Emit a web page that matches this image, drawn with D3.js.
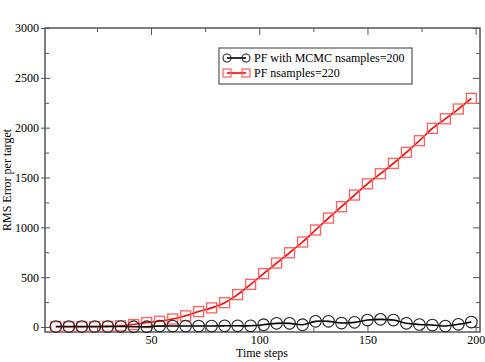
<!DOCTYPE html>
<html>
<head>
<meta charset="utf-8">
<script src="https://cdn.jsdelivr.net/npm/d3@7"></script>
<style>
  body { margin: 0; background: #fff; }
  svg text { font-family: "Liberation Serif", "DejaVu Serif", serif; }
</style>
</head>
<body>
<div id="app"></div>
<script>
const w = 485;
const h = 362;

// time steps where markers are drawn
const steps = [6, 12, 18, 24, 30, 36, 42, 48, 54, 60, 66, 72, 78, 84, 90, 96, 102,
  108, 114, 120, 126, 132, 138, 144, 150, 156, 162, 168, 174, 180, 186, 192, 198];

const mcmcErr = [5, 5, 5, 5, 5, 5, 3, 3, 10, 10, 10, 10, 10, 12, 12, 12, 23,
  37, 37, 23, 57, 57, 40, 47, 70, 77, 70, 37, 25, 20, 10, 27, 50];

const pfErr = [2, 2, 2, 3, 6, 12, 25, 45, 58, 80, 112, 155, 192, 244, 325, 428, 535,
  642, 745, 853, 973, 1093, 1207, 1324, 1437, 1538, 1642, 1752, 1869, 1993, 2089, 2187, 2294];

const xMajor = [50, 100, 150, 200];
const xMinor = [25, 75, 125, 175];
const yMajor = [0, 500, 1000, 1500, 2000, 2500, 3000];
const yMinor = [250, 750, 1250, 1750, 2250, 2750];

const legendLabels = ["PF with MCMC nsamples=200", "PF nsamples=220"];

const frame = "#555";
const serif = '"Liberation Serif", "DejaVu Serif", serif';

const svg = d3.select("#app").append("svg")
  .attr("width", w).attr("height", h);

const x = d3.scaleLinear().domain([1, 202]).range([45, 480]);
const y = d3.scaleLinear().domain([-50, 3000]).range([332, 28]);

const xL = x.range()[0], xR = x.range()[1];
const yT = y.range()[1], yB = y.range()[0];

const styleAxis = (g) => {
  g.attr("font-family", serif).attr("font-size", 12);
  g.select(".domain").remove();
  g.selectAll("line").attr("stroke", frame);
  g.selectAll("text").attr("fill", "#000").style("font-family", serif);
};

const fmt = d3.format("d");

// bottom axis, ticks pointing in
svg.append("g").attr("transform", `translate(0,${yB})`)
  .call(d3.axisBottom(x).tickValues(xMajor).tickFormat(fmt).tickSizeInner(-7).tickSizeOuter(0).tickPadding(3))
  .call(styleAxis);
svg.append("g").attr("transform", `translate(0,${yB})`)
  .call(d3.axisBottom(x).tickValues(xMinor).tickSizeInner(-4).tickSizeOuter(0).tickFormat(""))
  .call(styleAxis);

// top axis
svg.append("g").attr("transform", `translate(0,${yT})`)
  .call(d3.axisBottom(x).tickValues(xMajor).tickSizeInner(7).tickSizeOuter(0).tickFormat(""))
  .call(styleAxis);
svg.append("g").attr("transform", `translate(0,${yT})`)
  .call(d3.axisBottom(x).tickValues(xMinor).tickSizeInner(4).tickSizeOuter(0).tickFormat(""))
  .call(styleAxis);

// left axis: major ticks cross the line
svg.append("g").attr("transform", `translate(${xL},0)`)
  .call(d3.axisLeft(y).tickValues(yMajor).tickFormat(fmt).tickSizeInner(4).tickSizeOuter(0).tickPadding(2))
  .call(styleAxis);
svg.append("g").attr("transform", `translate(${xL},0)`)
  .call(d3.axisRight(y).tickValues(yMajor).tickSizeInner(5).tickSizeOuter(0).tickFormat(""))
  .call(styleAxis);
svg.append("g").attr("transform", `translate(${xL},0)`)
  .call(d3.axisRight(y).tickValues(yMinor).tickSizeInner(4).tickSizeOuter(0).tickFormat(""))
  .call(styleAxis);

// right axis
svg.append("g").attr("transform", `translate(${xR},0)`)
  .call(d3.axisLeft(y).tickValues(yMajor).tickSizeInner(7).tickSizeOuter(0).tickFormat(""))
  .call(styleAxis);
svg.append("g").attr("transform", `translate(${xR},0)`)
  .call(d3.axisLeft(y).tickValues(yMinor).tickSizeInner(4).tickSizeOuter(0).tickFormat(""))
  .call(styleAxis);

// frame
svg.append("rect")
  .attr("x", xL).attr("y", yT)
  .attr("width", xR - xL).attr("height", yB - yT)
  .attr("fill", "none").attr("stroke", frame).attr("stroke-width", 1.5);

// axis titles
svg.append("text")
  .attr("x", 262).attr("y", 357)
  .attr("text-anchor", "middle").style("font-size", "12px")
  .text("Time steps");
svg.append("text")
  .attr("transform", `translate(11,${(yT + yB) / 2}) rotate(-90)`)
  .attr("text-anchor", "middle").style("font-size", "12px")
  .text("RMS Error per target");

const line = d3.line().curve(d3.curveCatmullRom)
  .x((d) => x(d[0])).y((d) => y(d[1]));

const plot = svg.append("g");

// red series
const pfPts = steps.map((t, i) => [t, pfErr[i]]);
plot.append("path").datum(pfPts)
  .attr("fill", "none").attr("stroke", "#ff0000").attr("stroke-width", 1.6)
  .attr("d", line);
plot.selectAll("rect.pf").data(pfPts).enter().append("rect")
  .attr("class", "pf")
  .attr("x", (d) => x(d[0]) - 5).attr("y", (d) => y(d[1]) - 5)
  .attr("width", 10).attr("height", 10)
  .attr("fill", "none").attr("stroke", "#ff6060").attr("stroke-width", 1.3);

// black series
const mcPts = steps.map((t, i) => [t, mcmcErr[i]]);
plot.append("path").datum(mcPts)
  .attr("fill", "none").attr("stroke", "#000").attr("stroke-width", 1.6)
  .attr("d", line);
plot.selectAll("circle.mc").data(mcPts).enter().append("circle")
  .attr("class", "mc")
  .attr("cx", (d) => x(d[0])).attr("cy", (d) => y(d[1]))
  .attr("r", 5.8)
  .attr("fill", "none").attr("stroke", "#222").attr("stroke-width", 1.1);

// legend
const lg = svg.append("g");
lg.append("rect")
  .attr("x", 219).attr("y", 48).attr("width", 193).attr("height", 36)
  .attr("fill", "#fff").attr("stroke", frame).attr("stroke-width", 1.2);

const rows = [58, 73];
lg.append("line").attr("x1", 227).attr("x2", 246).attr("y1", rows[0]).attr("y2", rows[0])
  .attr("stroke", "#000").attr("stroke-width", 1.6);
[227, 246].forEach((cx) => {
  lg.append("circle").attr("cx", cx).attr("cy", rows[0]).attr("r", 4)
    .attr("fill", "none").attr("stroke", "#222").attr("stroke-width", 1.1);
});
lg.append("line").attr("x1", 227).attr("x2", 246).attr("y1", rows[1]).attr("y2", rows[1])
  .attr("stroke", "#ff0000").attr("stroke-width", 1.6);
[227, 246].forEach((cx) => {
  lg.append("rect").attr("x", cx - 4).attr("y", rows[1] - 4).attr("width", 8).attr("height", 8)
    .attr("fill", "none").attr("stroke", "#ff6060").attr("stroke-width", 1.2);
});
legendLabels.forEach((t, i) => {
  lg.append("text").attr("x", 254).attr("y", rows[i] + 4)
    .style("font-size", "12px").text(t);
});
</script>
</body>
</html>
